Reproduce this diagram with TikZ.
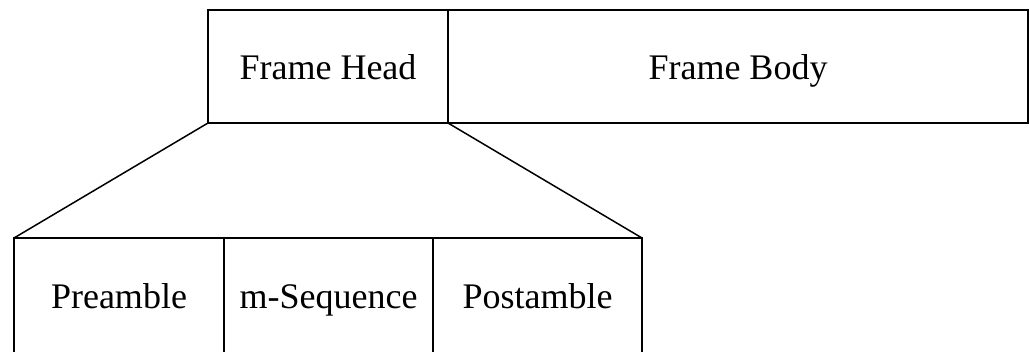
\documentclass[tikz,border=0pt]{standalone}
\usepackage{fontspec}
\setmainfont{Liberation Serif}
\begin{document}
\begin{tikzpicture}[x=1pt,y=-1pt,
  cell/.style={draw, line width=1.5pt, rectangle, inner sep=0pt, outer sep=0pt,
    anchor=north west, text height=30pt, text depth=4pt,
    font=\fontsize{36}{43}\selectfont},
  field/.style={cell, minimum height=126pt, text depth=16pt},
  link/.style={line width=1.5pt}]
\useasboundingbox (0,0) rectangle (1030,351);
\clip (0,0) rectangle (1030,351);
% frame layout
\node[cell, minimum width=240pt, minimum height=113pt] (head) at (208,10) {Frame Head};
\node[cell, minimum width=580pt, minimum height=113pt] (body) at (head.north east) {Frame Body};
% frame head fields (running past the lower edge)
\node[field, minimum width=210pt] (pre) at (14,238) {Preamble};
\node[field, minimum width=209pt] (seq) at (pre.north east) {m-Sequence};
\node[field, minimum width=209pt] (post) at (seq.north east) {Postamble};
% expansion lines
\draw[link] (head.south west) -- (pre.north west);
\draw[link] (head.south east) -- (post.north east);
\end{tikzpicture}
\end{document}
